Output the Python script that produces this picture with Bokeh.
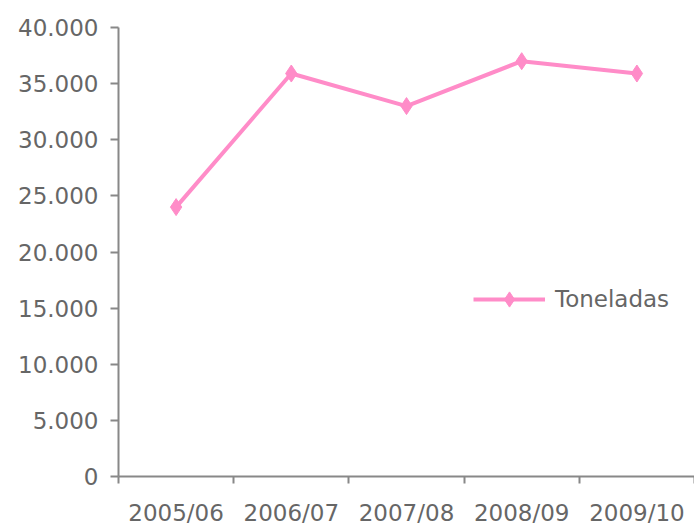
from bokeh.plotting import figure
from bokeh.models import FixedTicker, Range1d, Legend, LegendItem, ColumnDataSource
from bokeh.embed import file_html
from bokeh.resources import INLINE

categories = ["2005/06", "2006/07", "2007/08", "2008/09", "2009/10"]
toneladas = [24000, 35900, 33000, 37000, 35900]
y_ticks = [0, 5000, 10000, 15000, 20000, 25000, 30000, 35000, 40000]
y_tick_labels = ["0", "5.000", "10.000", "15.000", "20.000", "25.000", "30.000", "35.000", "40.000"]

FONT = "DejaVu Sans"
TXT = "#666666"
AX = "#888888"
PINK = "#ff8cc8"

xpos = [i + 0.5 for i in range(len(categories))]
src = ColumnDataSource(dict(x=xpos, y=toneladas))

p = figure(width=694, height=528, output_backend="svg", toolbar_location=None,
           x_range=Range1d(0, len(categories)), y_range=Range1d(0, 40000))
p.min_border_left = 118
p.min_border_right = 0
p.min_border_top = 27
p.min_border_bottom = 51
p.outline_line_color = None
p.xgrid.visible = False
p.ygrid.visible = False
p.background_fill_color = "white"
p.border_fill_color = "white"

# x axis
xa = p.xaxis[0]
xa.ticker = FixedTicker(ticks=xpos, minor_ticks=list(range(len(categories) + 1)))
xa.major_label_overrides = {x: c for x, c in zip(xpos, categories)}
xa.major_tick_out = 0
xa.major_tick_in = 0
xa.minor_tick_out = 7
xa.minor_tick_in = 0
xa.minor_tick_line_color = AX
xa.minor_tick_line_width = 2
xa.axis_line_color = AX
xa.axis_line_width = 2
xa.major_label_text_font = FONT
xa.major_label_text_font_size = "23px"
xa.major_label_text_color = TXT
xa.major_label_standoff = 16

# y axis
ya = p.yaxis[0]
ya.ticker = FixedTicker(ticks=y_ticks, minor_ticks=[])
ya.major_label_overrides = {t: l for t, l in zip(y_ticks, y_tick_labels)}
ya.major_tick_out = 8
ya.major_tick_in = 0
ya.major_tick_line_color = AX
ya.major_tick_line_width = 2
ya.minor_tick_out = 0
ya.axis_line_color = AX
ya.axis_line_width = 2
ya.major_label_text_font = FONT
ya.major_label_text_font_size = "23px"
ya.major_label_text_color = TXT
ya.major_label_standoff = 12

ln = p.line("x", "y", source=src, line_color=PINK, line_width=4)
mk = p.scatter("x", "y", source=src, marker="diamond", size=17,
               fill_color=PINK, line_color=PINK)

legend = Legend(items=[LegendItem(label="Toneladas", renderers=[ln, mk])],
                location=(355, 158))
legend.border_line_color = None
legend.background_fill_alpha = 0
legend.glyph_width = 72
legend.glyph_height = 38
legend.label_text_font = FONT
legend.label_text_font_size = "23px"
legend.label_text_color = TXT
legend.padding = 0
legend.margin = 0
legend.label_standoff = 10
p.add_layout(legend, "center")

open("out.html", "w").write(file_html(p, INLINE))
